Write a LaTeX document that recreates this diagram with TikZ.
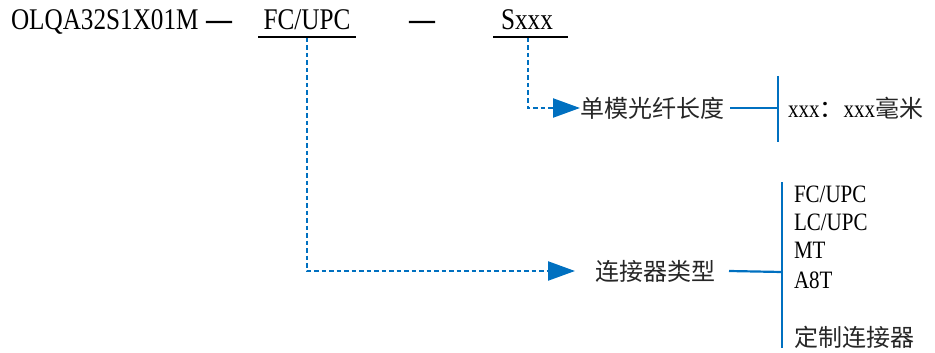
\documentclass[tikz,border=0pt]{standalone}
\usepackage{fontspec}
\setmainfont{Liberation Serif}[FakeStretch=0.84]
\newfontfamily\cjk{Noto Sans CJK SC}
\newfontfamily\cjkdash{Noto Sans CJK SC}[FakeBold=1.2]
\usetikzlibrary{arrows.meta,calc}
\definecolor{lineblue}{HTML}{0070C0}
\begin{document}
\begin{tikzpicture}[x=1pt,y=-1pt,
  every node/.style={inner sep=0pt,outer sep=0pt},
  lat30/.style={font=\fontsize{30}{36}\selectfont},
  lat25/.style={font=\fontsize{25}{30}\selectfont},
  zh/.style={font=\fontsize{24}{29}\selectfont\cjk, text=black!85},
  dashmark/.style={font=\fontsize{32}{36}\selectfont\cjkdash},
  uline/.style={draw=black, line width=2.5pt},
  dotc/.style={draw=lineblue, line width=2.2pt, dash pattern=on 4.5pt off 3pt,
    -{Triangle[length=27pt,width=19pt]}},
  sol/.style={draw=lineblue, line width=2.2pt}]
\useasboundingbox (0,0) rectangle (935,353);

% top row
\node[lat30, anchor=base west] (code) at (11,30) {OLQA32S1X01M};
\node[dashmark, anchor=base] (d1) at (219,31) {—};
\node[lat30, anchor=base] (fc) at (307,30) {FC/UPC};
\node[dashmark, anchor=base] (d2) at (422,31) {—};
\node[lat30, anchor=base] (sx) at (527,30) {Sxxx};

\coordinate (fcL) at (258,37);
\coordinate (fcR) at (356,37);
\coordinate (fcM) at (307,38);
\coordinate (sL) at (493,37);
\coordinate (sR) at (568,37);
\coordinate (sM) at (528,38);
\draw[uline] (fcL) -- (fcR);
\draw[uline] (sL) -- (sR);

% fibre length branch
\node[zh, anchor=west] (len) at (580,108) {单模光纤长度};
\draw[dotc] (sM) |- (len.west);
\coordinate (b1t) at (778,76);
\coordinate (b1b) at (778,142);
\coordinate (b1m) at (778,108);
\draw[sol] ([xshift=6pt]len.east) -- (b1m);
\draw[sol] (b1t) -- (b1b);
\node[lat25, anchor=west] (mm) at (788,108) {xxx{\fontsize{24}{29}\selectfont\cjk ：}xxx{\fontsize{24}{29}\selectfont\cjk\color{black!85}毫米}};

% connector branch
\node[zh, anchor=west] (conn) at (595,271) {连接器类型};
\draw[dotc, shorten >=20pt] (fcM) |- (conn.west);
\coordinate (b2t) at (782,182);
\coordinate (b2b) at (782,348);
\coordinate (b2m) at (782,272);
\draw[sol] ([xshift=14pt]conn.east) -- (b2m);
\draw[sol] (b2t) -- (b2b);
\node[lat25, anchor=base west] (o1) at (794,202) {FC/UPC};
\node[lat25, anchor=base west] (o2) at (794,230) {LC/UPC};
\node[lat25, anchor=base west] (o3) at (794,258) {MT};
\node[lat25, anchor=base west] (o4) at (794,288) {A8T};
\node[zh, anchor=west] (o5) at (794,337) {定制连接器};
\end{tikzpicture}
\end{document}
